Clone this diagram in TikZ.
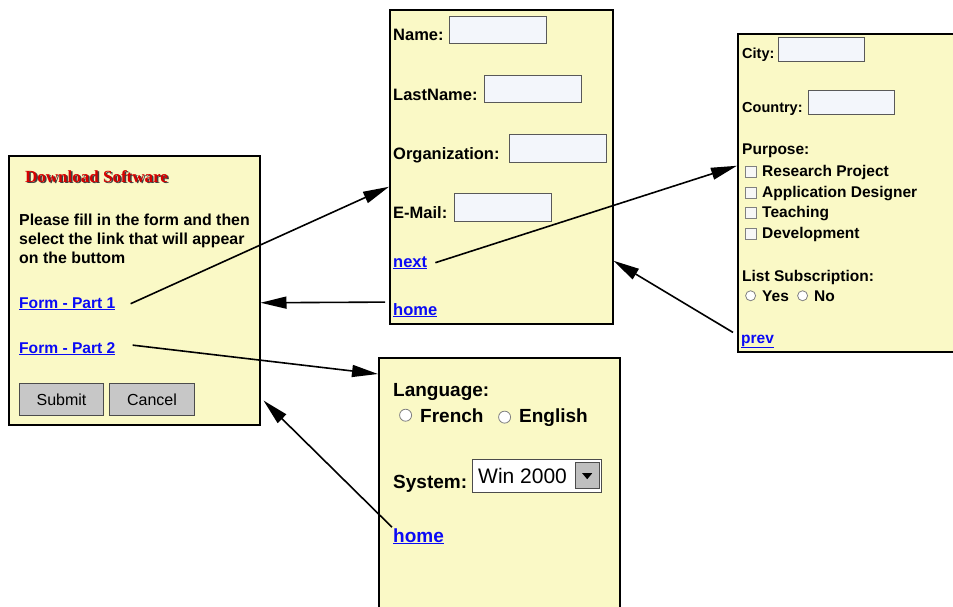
\documentclass[tikz,border=0pt]{standalone}
\usepackage{fontspec}
\setmainfont{Liberation Sans}
\newfontfamily\titlefont{Liberation Serif}
\usetikzlibrary{positioning}
\usetikzlibrary{arrows.meta}

\definecolor{paper}{RGB}{250,249,198}
\definecolor{linkblue}{RGB}{10,10,245}
\definecolor{titlered}{RGB}{215,0,0}
\definecolor{fieldbg}{RGB}{243,246,251}

\tikzset{
    panel/.style={draw=black, line width=1.5pt, fill=paper, inner sep=0pt, anchor=north west},
    lbl/.style={anchor=base west, inner sep=0pt, font=\bfseries},
    link/.style={lbl, text=linkblue},
    field/.style={draw=gray!70!black, line width=0.9pt, fill=fieldbg, inner sep=0pt, anchor=north west},
    chk/.style={draw=gray, line width=0.8pt, fill=gray!6, inner sep=0pt, minimum size=11pt},
    radio/.style={circle, draw=gray, line width=0.8pt, fill=white, inner sep=0pt, minimum size=10pt},
    btn/.style={draw=gray!60!black, line width=1pt, fill=black!22, inner sep=0pt, minimum height=32pt, font=\fontsize{16}{18}\selectfont},
    flow/.style={-{Triangle[length=26pt,width=12pt]}, line width=1.6pt},
}

\begin{document}
\begin{tikzpicture}[x=1pt, y=-1pt]
    \useasboundingbox (0,0) rectangle (953,606);
    \clip (0,0) rectangle (953,606);

    % Panels
    \node[panel, minimum width=251pt, minimum height=269pt] (mainform) at (8,155) {};
    \node[panel, minimum width=223pt, minimum height=314pt] (dataform) at (389,9) {};
    \node[panel, minimum width=228pt, minimum height=318pt] (infoform) at (737,33) {};
    \node[panel, minimum width=241pt, minimum height=263pt] (envform) at (378,357) {};

    % Download page
    \node[anchor=base west, inner sep=0pt, text=black!75, font=\titlefont\bfseries\fontsize{17}{20}\selectfont] (dlshadow) at (26.5,183.5) {Download Software};
    \node[anchor=base west, inner sep=0pt, text=titlered, font=\titlefont\bfseries\fontsize{17}{20}\selectfont] (dltitle) at (25,182) {Download Software};
    \node[anchor=north west, inner sep=0pt, align=left, font=\bfseries\fontsize{15.9}{19.2}\selectfont] (intro) at (19,213.5)
        {Please fill in the form and then\\select the link that will appear\\on the buttom};
    \node[link, font=\bfseries\fontsize{15.6}{18}\selectfont] (formone) at (19,308) {\underline{Form - Part 1}};
    \node[link, font=\bfseries\fontsize{15.6}{18}\selectfont] (formtwo) at (19,353) {\underline{Form - Part 2}};
    \node[btn, anchor=north west, minimum width=84pt] (submit) at (19,383) {Submit};
    \node[btn, right=5pt of submit, minimum width=85pt] (cancel) {Cancel};

    % Form part 1
    \begin{scope}[lbl/.append style={font=\bfseries\fontsize{16.5}{19}\selectfont}]
        \node[lbl] (name) at (393,40) {Name:};
        \node[lbl] (lastname) at (393,100) {LastName:};
        \node[lbl] (org) at (393,159) {Organization:};
        \node[lbl] (email) at (393,218) {E-Mail:};
        \node[link] (nextA) at (393,267) {\underline{next}};
        \node[link] (homeA) at (393,315) {\underline{home}};
    \end{scope}
    \node[field, minimum width=97pt, minimum height=27pt] (namebox) at (449,16) {};
    \node[field, minimum width=97pt, minimum height=27pt] (lastbox) at (484,75) {};
    \node[field, minimum width=97pt, minimum height=28pt] (orgbox) at (509,134) {};
    \node[field, minimum width=97pt, minimum height=28pt] (mailbox) at (454,193) {};

    % Form part 1, continued
    \node[lbl, font=\bfseries\fontsize{14.5}{17}\selectfont] (city) at (742,58) {City:};
    \node[lbl, font=\bfseries\fontsize{14.5}{17}\selectfont] (country) at (742,112) {Country:};
    \node[field, minimum width=86pt, minimum height=24pt] (citybox) at (778,37) {};
    \node[field, minimum width=86pt, minimum height=24pt] (countrybox) at (808,90) {};
    \begin{scope}[lbl/.append style={font=\bfseries\fontsize{15.5}{18}\selectfont}]
        \node[lbl] (purpose) at (742,154) {Purpose:};
        \node[lbl] (research) at (762,176) {Research Project};
        \node[lbl] (designer) at (762,197) {Application Designer};
        \node[lbl] (teaching) at (762,217) {Teaching};
        \node[lbl] (devel) at (762,238) {Development};
        \node[lbl] (subscr) at (742,281) {List Subscription:};
        \node[lbl] (yes) at (762,301) {Yes};
        \node[lbl] (no) at (814,301) {No};
        \node[link] (prevB) at (741,343) {\underline{prev}};
    \end{scope}
    \node[chk, left=5pt of research] (chkres) {};
    \node[chk, left=5pt of designer] (chkdes) {};
    \node[chk, left=5pt of teaching] (chktea) {};
    \node[chk, left=5pt of devel] (chkdev) {};
    \node[radio, left=6pt of yes] (radyes) {};
    \node[radio, left=6pt of no] (radno) {};

    % Form part 2
    \begin{scope}[lbl/.append style={font=\bfseries\fontsize{19}{22}\selectfont}]
        \node[lbl] (lang) at (393,396) {Language:};
        \node[lbl] (french) at (420,422) {French};
        \node[lbl] (english) at (519,422) {English};
        \node[lbl] (system) at (393,488) {System:};
        \node[link] (homeC) at (393,542) {\underline{home}};
    \end{scope}
    \node[radio, left=8pt of french, minimum size=12pt] (radfr) {};
    \node[radio, left=8pt of english, minimum size=12pt] (raden) {};
    \node[field, draw=gray!60!black, fill=white, minimum width=129pt, minimum height=33pt] (dropdown) at (472,459) {};
    \node[anchor=base west, inner sep=0pt, font=\fontsize{21}{24}\selectfont] (winver) at (478,483) {Win 2000};
    \node[draw=gray!60!black, fill=black!25, inner sep=0pt, anchor=north west, minimum width=24pt, minimum height=26pt] (dropbtn) at (575,462) {};
    \fill (dropbtn.center) ++(-5,-2) -- ++(10,0) -- ++(-5,6) -- cycle;

    % Links between pages
    \draw[flow] ([xshift=15pt]formone.east) -- ([yshift=-20pt]dataform.west);
    \draw[flow] ([xshift=-8pt,yshift=8pt]homeA.west) -- ([yshift=-12.5pt]mainform.east);
    \draw[flow] ([xshift=8pt]nextA.east) -- ([yshift=27pt]infoform.west);
    \draw[flow] ([xshift=-8pt,yshift=9pt]prevB.west) -- ([yshift=-94pt]dataform.east);
    \draw[flow] ([xshift=17pt,yshift=3.5pt]formtwo.east) -- ([yshift=-17pt]envform.north west);
    \draw[flow] ([xshift=-1pt,yshift=9pt]homeC.west) -- ([xshift=3pt,yshift=25pt]mainform.south east);
\end{tikzpicture}
\end{document}
